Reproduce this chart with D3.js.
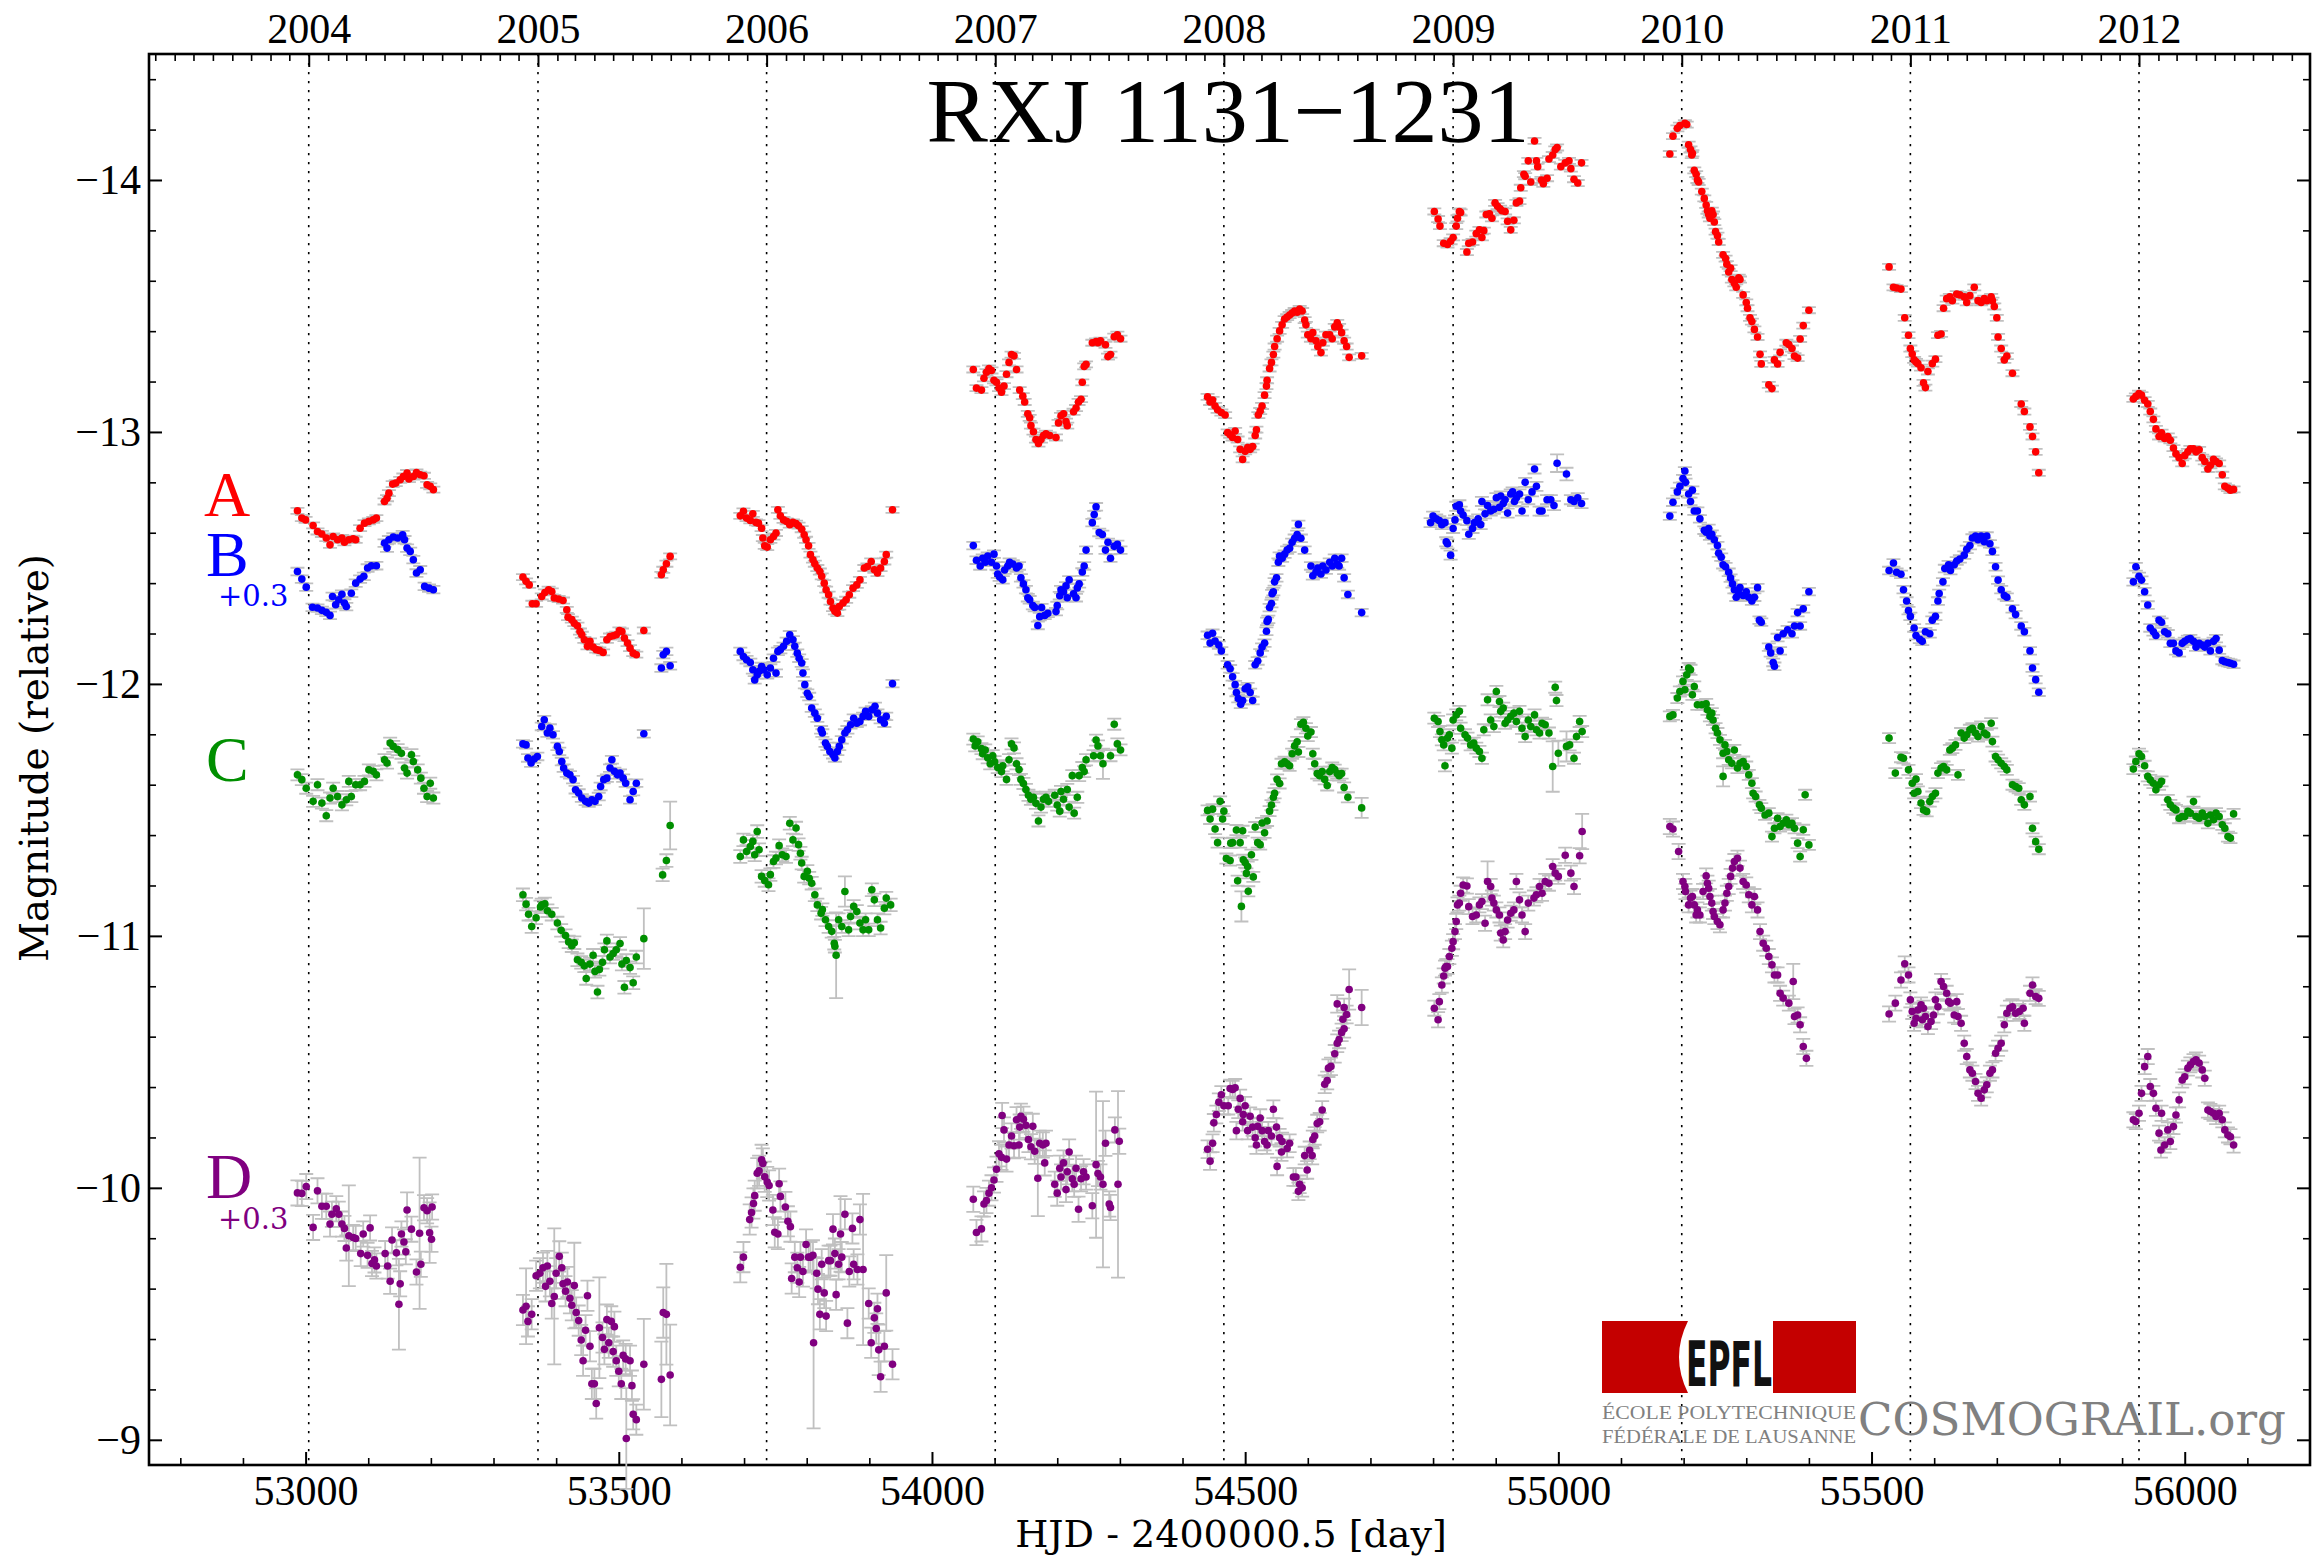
<!DOCTYPE html>
<html lang="en">
<head>
<meta charset="UTF-8">
<title>RXJ 1131-1231 light curves</title>
<script src="https://d3js.org/d3.v7.min.js"></script>
<style>
  body { margin: 0; background: #fff; }
</style>
</head>
<body>
<div id="chart"></div>
<script>
// light curves as plotted (B and D already shifted by +0.3 mag)
// each point: [HJD - 2400000.5, magnitude, optional error]
const curveA = [
  // 2004
  [52987,-12.687],[52994,-12.658],[53000,-12.651],[53012,-12.629],[53019,-12.605],[53026,-12.595],[53033,-12.579],[53039,-12.552],[53044,-12.585],[53051,-12.572],[53058,-12.579],[53062,-12.562],[53069,-12.572],[53076,-12.576],[53080,-12.572],[53087,-12.618],[53094,-12.638],[53101,-12.645],[53108,-12.651],[53113,-12.658],[53126,-12.724],[53130,-12.737],[53133,-12.757],[53139,-12.793],[53144,-12.797],[53151,-12.810],[53156,-12.823],[53162,-12.837],[53165,-12.813],[53172,-12.823],[53177,-12.839],[53183,-12.830],[53189,-12.826],[53194,-12.790],[53199,-12.784],[53204,-12.771],
  // 2005
  [53347,-12.424],[53352,-12.407],[53357,-12.393],[53362,-12.318],[53368,-12.318],[53377,-12.347],[53382,-12.363],[53388,-12.374],[53393,-12.367],[53397,-12.341],[53404,-12.337],[53411,-12.331],[53417,-12.294],[53419,-12.265],[53425,-12.255],[53429,-12.241],[53434,-12.231],[53438,-12.208],[53441,-12.195],[53445,-12.175],[53450,-12.149],[53454,-12.169],[53459,-12.146],[53464,-12.136],[53469,-12.133],[53475,-12.125],[53481,-12.175],[53486,-12.188],[53491,-12.191],[53496,-12.195],[53501,-12.212],[53505,-12.208],[53509,-12.182],[53514,-12.162],[53518,-12.142],[53523,-12.122],[53528,-12.116],[53540,-12.212],[53568,-12.433],[53571,-12.453],[53576,-12.477],[53582,-12.506],
  // 2006
  [53694,-12.667],[53699,-12.685],[53704,-12.658],[53710,-12.649],[53714,-12.675],[53719,-12.641],[53723,-12.638],[53728,-12.618],[53730,-12.579],[53733,-12.548],[53737,-12.543],[53742,-12.572],[53747,-12.585],[53751,-12.599],[53754,-12.691],[53758,-12.667],[53763,-12.651],[53768,-12.645],[53773,-12.632],[53778,-12.641],[53783,-12.636],[53787,-12.628],[53792,-12.614],[53796,-12.592],[53799,-12.572],[53803,-12.548],[53806,-12.513],[53810,-12.493],[53813,-12.477],[53817,-12.460],[53821,-12.446],[53824,-12.427],[53828,-12.400],[53831,-12.374],[53835,-12.354],[53838,-12.327],[53842,-12.301],[53845,-12.288],[53849,-12.281],[53852,-12.307],[53858,-12.321],[53863,-12.334],[53868,-12.354],[53874,-12.380],[53880,-12.393],[53885,-12.413],[53892,-12.460],[53897,-12.466],[53903,-12.486],[53908,-12.453],[53913,-12.440],[53918,-12.460],[53924,-12.486],[53927,-12.513],[53937,-12.691],
  // 2007
  [54066,-13.248],[54071,-13.174],[54079,-13.166],[54083,-13.213],[54087,-13.237],[54091,-13.252],[54095,-13.244],[54099,-13.205],[54103,-13.197],[54107,-13.174],[54111,-13.158],[54115,-13.182],[54119,-13.229],[54123,-13.276],[54127,-13.307],[54131,-13.302],[54135,-13.248],[54140,-13.166],[54145,-13.142],[54148,-13.119],[54153,-13.072],[54156,-13.056],[54158,-13.025],[54162,-13.001],[54166,-12.970],[54170,-12.954],[54174,-12.970],[54178,-12.986],[54182,-12.993],[54188,-12.986],[54198,-12.978],[54202,-13.036],[54206,-13.064],[54210,-13.072],[54214,-13.041],[54216,-13.025],[54226,-13.080],[54230,-13.095],[54234,-13.119],[54238,-13.130],[54240,-13.197],[54243,-13.260],[54246,-13.268],[54256,-13.354],[54262,-13.359],[54265,-13.354],[54269,-13.362],[54277,-13.346],[54281,-13.299],[54285,-13.307],[54291,-13.378],[54296,-13.386],[54301,-13.370],
  // 2008
  [54440,-13.139],[54444,-13.119],[54448,-13.127],[54452,-13.103],[54456,-13.088],[54462,-13.077],[54468,-13.067],[54472,-12.998],[54476,-12.989],[54480,-12.978],[54484,-13.004],[54488,-12.970],[54492,-12.931],[54496,-12.891],[54500,-12.923],[54504,-12.938],[54508,-12.931],[54512,-12.942],[54516,-12.986],[54518,-13.009],[54521,-13.067],[54524,-13.083],[54527,-13.103],[54531,-13.146],[54534,-13.182],[54535,-13.205],[54539,-13.252],[54542,-13.276],[54545,-13.307],[54547,-13.339],[54551,-13.370],[54555,-13.401],[54559,-13.425],[54563,-13.448],[54567,-13.456],[54571,-13.464],[54575,-13.472],[54579,-13.480],[54583,-13.475],[54587,-13.488],[54591,-13.480],[54595,-13.444],[54597,-13.425],[54600,-13.386],[54605,-13.370],[54608,-13.394],[54613,-13.362],[54616,-13.339],[54621,-13.315],[54624,-13.354],[54629,-13.386],[54635,-13.386],[54639,-13.370],[54643,-13.417],[54647,-13.433],[54650,-13.417],[54654,-13.394],[54658,-13.362],[54662,-13.339],[54666,-13.296],[54686,-13.302],
  // 2009
  [54802,-13.875],[54808,-13.845],[54811,-13.817],[54817,-13.749],[54823,-13.744],[54828,-13.757],[54832,-13.772],[54837,-13.817],[54839,-13.848],[54842,-13.875],[54844,-13.871],[54854,-13.714],[54857,-13.749],[54863,-13.754],[54869,-13.787],[54874,-13.802],[54878,-13.772],[54881,-13.799],[54885,-13.863],[54890,-13.866],[54894,-13.848],[54899,-13.909],[54903,-13.896],[54907,-13.886],[54910,-13.878],[54915,-13.875],[54919,-13.836],[54924,-13.802],[54929,-13.840],[54933,-13.909],[54938,-13.916],[54940,-13.969],[54945,-14.023],[54947,-14.015],[54952,-14.076],[54956,-13.992],[54962,-14.155],[54965,-14.076],[54967,-14.053],[54973,-14.000],[54976,-13.985],[54982,-14.007],[54985,-14.083],[54991,-14.099],[54995,-14.121],[54998,-14.129],[55004,-14.053],[55011,-14.068],[55017,-14.076],[55020,-14.045],[55025,-14.003],[55031,-13.988],[55037,-14.068],
  // 2010
  [55178,-14.103],[55183,-14.174],[55190,-14.205],[55194,-14.216],[55202,-14.225],[55205,-14.220],[55208,-14.140],[55211,-14.121],[55213,-14.099],[55214,-14.106],[55217,-14.038],[55220,-14.023],[55222,-14.000],[55224,-13.992],[55229,-13.954],[55233,-13.927],[55236,-13.901],[55238,-13.878],[55240,-13.863],[55242,-13.848],[55245,-13.878],[55247,-13.863],[55249,-13.833],[55251,-13.795],[55254,-13.779],[55256,-13.754],[55263,-13.703],[55267,-13.688],[55269,-13.666],[55272,-13.635],[55275,-13.650],[55277,-13.605],[55281,-13.590],[55284,-13.574],[55288,-13.612],[55290,-13.605],[55295,-13.544],[55300,-13.514],[55302,-13.491],[55306,-13.453],[55309,-13.438],[55313,-13.407],[55318,-13.377],[55322,-13.308],[55324,-13.270],[55336,-13.187],[55341,-13.172],[55345,-13.286],[55350,-13.270],[55354,-13.316],[55364,-13.354],[55368,-13.347],[55373,-13.331],[55377,-13.301],[55382,-13.293],[55386,-13.369],[55391,-13.422],[55400,-13.483],
  // 2011
  [55528,-13.655],[55535,-13.574],[55540,-13.571],[55547,-13.567],[55553,-13.453],[55559,-13.384],[55562,-13.331],[55565,-13.309],[55568,-13.286],[55571,-13.278],[55574,-13.271],[55579,-13.255],[55583,-13.195],[55586,-13.176],[55590,-13.240],[55597,-13.271],[55602,-13.289],[55606,-13.384],[55611,-13.389],[55615,-13.491],[55620,-13.529],[55625,-13.536],[55629,-13.521],[55636,-13.547],[55641,-13.544],[55648,-13.536],[55652,-13.514],[55657,-13.541],[55664,-13.574],[55670,-13.521],[55675,-13.514],[55680,-13.529],[55684,-13.521],[55691,-13.536],[55693,-13.521],[55696,-13.498],[55700,-13.453],[55702,-13.377],[55707,-13.331],[55712,-13.286],[55716,-13.301],[55725,-13.233],[55739,-13.111],[55744,-13.081],[55753,-13.020],[55757,-12.982],[55762,-12.921],[55767,-12.838],
  // 2012
  [55918,-13.131],[55922,-13.141],[55927,-13.152],[55931,-13.146],[55936,-13.126],[55941,-13.111],[55945,-13.081],[55950,-13.050],[55954,-13.012],[55959,-12.982],[55963,-12.997],[55968,-12.974],[55973,-12.982],[55977,-12.967],[55982,-12.936],[55986,-12.913],[55991,-12.898],[55996,-12.875],[56000,-12.906],[56005,-12.921],[56009,-12.933],[56014,-12.933],[56018,-12.921],[56023,-12.929],[56028,-12.898],[56032,-12.883],[56037,-12.853],[56041,-12.868],[56046,-12.891],[56050,-12.883],[56055,-12.875],[56060,-12.830],[56064,-12.784],[56069,-12.777],[56073,-12.769],[56078,-12.772]
];

const curveB = [
  // 2004
  [52987,-12.446],[52994,-12.416],[53001,-12.384],[53011,-12.304],[53019,-12.301],[53026,-12.292],[53033,-12.284],[53039,-12.272],[53043,-12.347],[53048,-12.314],[53053,-12.334],[53058,-12.356],[53062,-12.321],[53065,-12.307],[53073,-12.360],[53080,-12.400],[53087,-12.416],[53093,-12.427],[53099,-12.460],[53105,-12.469],[53113,-12.469],[53126,-12.559],[53130,-12.539],[53133,-12.572],[53140,-12.583],[53147,-12.579],[53155,-12.592],[53158,-12.572],[53162,-12.539],[53167,-12.526],[53172,-12.493],[53177,-12.440],[53183,-12.453],[53190,-12.387],[53197,-12.380],[53204,-12.374],
  // 2005
  [53347,-11.762],[53352,-11.758],[53355,-11.706],[53360,-11.686],[53365,-11.702],[53370,-11.712],[53377,-11.831],[53381,-11.858],[53386,-11.805],[53390,-11.825],[53395,-11.798],[53402,-11.752],[53405,-11.732],[53409,-11.692],[53412,-11.666],[53417,-11.646],[53422,-11.639],[53427,-11.620],[53431,-11.580],[53436,-11.567],[53441,-11.547],[53447,-11.534],[53452,-11.527],[53457,-11.540],[53462,-11.534],[53468,-11.553],[53471,-11.593],[53476,-11.620],[53481,-11.626],[53486,-11.666],[53489,-11.699],[53493,-11.653],[53498,-11.639],[53502,-11.646],[53507,-11.626],[53511,-11.606],[53518,-11.540],[53523,-11.573],[53528,-11.606],[53540,-11.802],[53568,-12.063],[53571,-12.116],[53576,-12.129],[53582,-12.072],
  // 2006
  [53694,-12.129],[53699,-12.109],[53704,-12.096],[53710,-12.085],[53714,-12.056],[53717,-12.016],[53721,-12.036],[53724,-12.050],[53728,-12.069],[53731,-12.056],[53737,-12.036],[53742,-12.063],[53747,-12.102],[53751,-12.043],[53754,-12.129],[53758,-12.136],[53763,-12.149],[53768,-12.169],[53773,-12.195],[53778,-12.175],[53781,-12.149],[53785,-12.122],[53788,-12.102],[53792,-12.083],[53794,-12.043],[53797,-11.997],[53801,-11.963],[53804,-11.950],[53808,-11.904],[53813,-11.884],[53817,-11.864],[53823,-11.818],[53825,-11.805],[53830,-11.765],[53833,-11.752],[53837,-11.732],[53842,-11.719],[53845,-11.706],[53849,-11.732],[53852,-11.752],[53856,-11.778],[53861,-11.805],[53865,-11.818],[53870,-11.838],[53875,-11.864],[53880,-11.844],[53885,-11.851],[53890,-11.871],[53894,-11.891],[53899,-11.871],[53904,-11.897],[53909,-11.911],[53913,-11.884],[53918,-11.858],[53924,-11.844],[53927,-11.871],[53937,-12.001],
  // 2007
  [54066,-12.549],[54071,-12.491],[54077,-12.468],[54081,-12.499],[54085,-12.483],[54089,-12.507],[54095,-12.483],[54099,-12.515],[54103,-12.468],[54105,-12.436],[54108,-12.424],[54113,-12.413],[54116,-12.452],[54121,-12.468],[54124,-12.483],[54129,-12.476],[54135,-12.460],[54139,-12.468],[54142,-12.421],[54146,-12.397],[54150,-12.374],[54153,-12.342],[54156,-12.334],[54161,-12.311],[54164,-12.303],[54169,-12.232],[54172,-12.267],[54175,-12.303],[54180,-12.272],[54185,-12.280],[54198,-12.287],[54200,-12.311],[54204,-12.350],[54206,-12.374],[54210,-12.366],[54214,-12.389],[54216,-12.342],[54219,-12.413],[54226,-12.358],[54230,-12.342],[54232,-12.381],[54235,-12.397],[54240,-12.444],[54243,-12.468],[54246,-12.531],[54256,-12.640],[54259,-12.672],[54262,-12.703],[54267,-12.601],[54272,-12.593],[54277,-12.531],[54281,-12.562],[54285,-12.499],[54291,-12.546],[54296,-12.554],[54301,-12.531],
  // 2008
  [54440,-12.193],[54444,-12.162],[54448,-12.201],[54452,-12.170],[54458,-12.154],[54462,-12.131],[54472,-12.076],[54476,-12.060],[54480,-12.028],[54484,-11.997],[54486,-11.966],[54489,-11.942],[54493,-11.919],[54496,-11.934],[54500,-11.981],[54504,-11.989],[54508,-11.966],[54512,-11.934],[54516,-12.076],[54520,-12.091],[54524,-12.123],[54527,-12.146],[54531,-12.162],[54534,-12.209],[54535,-12.248],[54537,-12.256],[54539,-12.303],[54542,-12.319],[54543,-12.358],[54545,-12.366],[54547,-12.405],[54550,-12.421],[54553,-12.483],[54555,-12.507],[54559,-12.499],[54563,-12.515],[54567,-12.531],[54571,-12.538],[54575,-12.562],[54579,-12.578],[54583,-12.593],[54585,-12.633],[54589,-12.578],[54595,-12.531],[54605,-12.468],[54608,-12.429],[54613,-12.444],[54616,-12.460],[54621,-12.436],[54624,-12.468],[54629,-12.452],[54635,-12.483],[54639,-12.468],[54643,-12.499],[54647,-12.476],[54650,-12.468],[54654,-12.499],[54658,-12.421],[54664,-12.355],[54686,-12.283],
  // 2009
  [54796,-12.640],[54800,-12.666],[54805,-12.655],[54810,-12.648],[54814,-12.632],[54819,-12.640],[54821,-12.564],[54823,-12.556],[54828,-12.511],[54832,-12.617],[54835,-12.651],[54837,-12.705],[54842,-12.711],[54844,-12.686],[54848,-12.670],[54854,-12.648],[54857,-12.594],[54863,-12.617],[54866,-12.640],[54872,-12.655],[54876,-12.632],[54878,-12.724],[54883,-12.675],[54887,-12.708],[54892,-12.686],[54897,-12.693],[54901,-12.739],[54906,-12.701],[54908,-12.746],[54912,-12.716],[54915,-12.731],[54919,-12.678],[54924,-12.754],[54927,-12.762],[54930,-12.724],[54933,-12.739],[54938,-12.754],[54942,-12.686],[54947,-12.800],[54952,-12.731],[54958,-12.762],[54962,-12.853],[54965,-12.784],[54970,-12.686],[54974,-12.686],[54982,-12.731],[54988,-12.731],[54993,-12.708],[54998,-12.876,0.035],[55013,-12.833,0.025],[55020,-12.731],[55025,-12.724],[55031,-12.739],[55037,-12.716],
  // 2010
  [55178,-12.666],[55183,-12.721],[55190,-12.762],[55194,-12.784],[55199,-12.815],[55202,-12.845],[55203,-12.800],[55208,-12.754],[55211,-12.724],[55214,-12.769],[55217,-12.686],[55222,-12.686],[55226,-12.655],[55233,-12.610],[55236,-12.602],[55240,-12.617],[55242,-12.587],[55245,-12.594],[55249,-12.572],[55254,-12.549],[55256,-12.519],[55260,-12.503],[55263,-12.473],[55267,-12.465],[55272,-12.443],[55275,-12.420],[55278,-12.397],[55281,-12.374],[55284,-12.344],[55288,-12.359],[55290,-12.382],[55295,-12.351],[55300,-12.366],[55304,-12.344],[55309,-12.329],[55313,-12.344],[55318,-12.382],[55321,-12.253],[55324,-12.245],[55336,-12.146],[55339,-12.123],[55343,-12.085],[55345,-12.070],[55350,-12.184],[55354,-12.131],[55359,-12.199],[55366,-12.215],[55373,-12.199],[55377,-12.230],[55382,-12.283],[55386,-12.230],[55391,-12.298],[55400,-12.366],
  // 2011
  [55528,-12.450],[55535,-12.480],[55540,-12.443],[55547,-12.435],[55551,-12.374],[55556,-12.329],[55559,-12.291],[55562,-12.268],[55568,-12.222],[55571,-12.192],[55577,-12.177],[55581,-12.169],[55586,-12.207],[55593,-12.199],[55597,-12.253],[55602,-12.268],[55606,-12.329],[55608,-12.359],[55614,-12.405],[55617,-12.458],[55623,-12.473],[55626,-12.450],[55632,-12.473],[55636,-12.488],[55641,-12.496],[55648,-12.511],[55652,-12.534],[55657,-12.549],[55661,-12.579],[55666,-12.587],[55670,-12.572],[55675,-12.587],[55680,-12.564],[55684,-12.587],[55689,-12.556],[55693,-12.526],[55698,-12.465],[55702,-12.412],[55707,-12.374],[55712,-12.351],[55716,-12.344],[55725,-12.298],[55730,-12.275],[55739,-12.230],[55744,-12.207],[55753,-12.131],[55757,-12.063],[55762,-12.017],[55767,-11.967],
  // 2012
  [55918,-12.405],[55922,-12.465],[55927,-12.427],[55931,-12.412],[55936,-12.366],[55941,-12.313],[55945,-12.222],[55950,-12.207],[55954,-12.192],[55959,-12.253],[55963,-12.245],[55968,-12.207],[55973,-12.199],[55977,-12.161],[55982,-12.161],[55986,-12.131],[55991,-12.123],[55996,-12.161],[56000,-12.169],[56005,-12.177],[56009,-12.180],[56014,-12.169],[56018,-12.146],[56023,-12.161],[56028,-12.154],[56032,-12.146],[56037,-12.161],[56041,-12.131],[56046,-12.169],[56050,-12.180],[56055,-12.134],[56060,-12.093],[56064,-12.088],[56069,-12.085],[56073,-12.082],[56078,-12.078]
];

const curveC = [
  // 2004
  [52987,-11.639],[52994,-11.620],[53001,-11.586],[53012,-11.534],[53019,-11.600],[53026,-11.527],[53033,-11.477],[53039,-11.547],[53044,-11.586],[53051,-11.553],[53058,-11.520],[53065,-11.540],[53069,-11.613],[53073,-11.553],[53080,-11.600],[53087,-11.600],[53094,-11.613],[53101,-11.659],[53108,-11.653],[53113,-11.639],[53126,-11.699],[53130,-11.686],[53135,-11.765],[53140,-11.752],[53147,-11.739],[53153,-11.725],[53158,-11.666],[53162,-11.646],[53169,-11.719],[53172,-11.692],[53179,-11.659],[53184,-11.626],[53189,-11.586],[53194,-11.553],[53199,-11.606],[53204,-11.547],
  // 2005
  [53347,-11.163],[53352,-11.126],[53356,-11.086],[53361,-11.037],[53368,-11.072],[53375,-11.115],[53377,-11.123],[53382,-11.127],[53386,-11.100],[53393,-11.086],[53402,-11.051],[53408,-11.022],[53415,-11.001],[53420,-10.976],[53425,-10.961],[53429,-10.973],[53434,-10.905],[53440,-10.895],[53445,-10.881],[53448,-10.831],[53454,-10.888],[53459,-10.923],[53462,-10.859],[53466,-10.777],[53469,-10.867],[53474,-10.895],[53477,-10.945],[53481,-10.980],[53486,-10.916],[53491,-10.930],[53496,-10.945],[53502,-10.970],[53505,-10.888],[53509,-10.796],[53512,-10.902],[53518,-10.874],[53523,-10.814],[53528,-10.916],[53540,-10.989,0.12],[53570,-11.242],[53576,-11.299],[53582,-11.438,0.095],
  // 2006
  [53694,-11.315],[53699,-11.381],[53704,-11.335],[53710,-11.355],[53714,-11.375],[53717,-11.322],[53721,-11.414],[53724,-11.342],[53728,-11.236],[53733,-11.220],[53739,-11.203],[53742,-11.243],[53747,-11.295],[53751,-11.309],[53756,-11.358],[53761,-11.322],[53767,-11.315],[53773,-11.447],[53778,-11.381],[53783,-11.428],[53787,-11.362],[53790,-11.328],[53792,-11.289],[53796,-11.236],[53801,-11.256],[53804,-11.229],[53808,-11.209],[53813,-11.163],[53817,-11.123],[53823,-11.090],[53825,-11.104],[53830,-11.064],[53835,-11.037],[53840,-11.018],[53844,-10.971],[53847,-10.923,0.17],[53845,-10.959],[53851,-11.064],[53856,-11.037],[53861,-11.176,0.06],[53867,-11.024],[53870,-11.077],[53875,-11.117],[53880,-11.097],[53885,-11.051],[53890,-11.024],[53894,-11.064],[53899,-11.024],[53904,-11.183],[53908,-11.143],[53913,-11.064],[53918,-11.031],[53924,-11.110],[53927,-11.150],[53934,-11.123],
  // 2007
  [54066,-11.781],[54069,-11.754],[54073,-11.770],[54079,-11.743],[54081,-11.723],[54085,-11.738],[54089,-11.707],[54093,-11.683],[54097,-11.715],[54100,-11.691],[54105,-11.668],[54111,-11.652],[54113,-11.675],[54119,-11.621],[54123,-11.699],[54127,-11.762],[54131,-11.746],[54135,-11.683],[54139,-11.660],[54142,-11.621],[54146,-11.605],[54150,-11.581],[54154,-11.558],[54158,-11.542],[54162,-11.550],[54166,-11.526],[54170,-11.456],[54174,-11.511],[54178,-11.542],[54182,-11.550],[54186,-11.534],[54196,-11.558],[54200,-11.519],[54204,-11.495],[54206,-11.573],[54210,-11.542],[54216,-11.581],[54219,-11.511],[54224,-11.636],[54227,-11.487],[54232,-11.550],[54235,-11.636],[54240,-11.668],[54243,-11.652],[54246,-11.699],[54258,-11.715],[54262,-11.777],[54265,-11.754],[54269,-11.715],[54273,-11.683,0.06],[54285,-11.715],[54291,-11.840],[54296,-11.762],[54301,-11.738],
  // 2008
  [54440,-11.498],[54444,-11.464],[54448,-11.503],[54452,-11.424],[54456,-11.370],[54460,-11.534],[54464,-11.464],[54466,-11.495],[54470,-11.307],[54476,-11.299],[54477,-11.368],[54480,-11.370],[54486,-11.420],[54488,-11.219],[54492,-11.370],[54494,-11.117,0.06],[54496,-11.417],[54497,-11.302],[54500,-11.291],[54502,-11.248],[54504,-11.275],[54505,-11.177],[54510,-11.322],[54513,-11.234],[54516,-11.432],[54520,-11.370],[54524,-11.362],[54527,-11.448],[54531,-11.409],[54535,-11.456],[54539,-11.495],[54542,-11.519],[54545,-11.550],[54547,-11.566],[54551,-11.621],[54555,-11.605],[54558,-11.683],[54563,-11.691],[54567,-11.683],[54571,-11.675],[54575,-11.723],[54579,-11.754],[54583,-11.770],[54585,-11.730],[54589,-11.840],[54593,-11.848],[54597,-11.824],[54600,-11.793],[54605,-11.809],[54608,-11.723],[54611,-11.683],[54615,-11.644],[54619,-11.636],[54623,-11.652],[54627,-11.621],[54631,-11.597],[54635,-11.652],[54639,-11.668],[54643,-11.660],[54647,-11.644],[54650,-11.636],[54654,-11.644],[54658,-11.589],[54664,-11.550],[54686,-11.508,0.04],
  // 2009
  [54802,-11.864],[54808,-11.851],[54811,-11.811],[54814,-11.778],[54817,-11.758],[54819,-11.675],[54823,-11.785],[54826,-11.798],[54830,-11.745],[54832,-11.857],[54837,-11.877],[54842,-11.891],[54844,-11.824],[54851,-11.798],[54855,-11.785],[54860,-11.758],[54865,-11.765],[54869,-11.745],[54874,-11.732],[54878,-11.705],[54881,-11.818],[54887,-11.937],[54892,-11.857],[54897,-11.831],[54901,-11.970],[54906,-11.930],[54908,-11.891],[54912,-11.904],[54915,-11.844],[54919,-11.857],[54924,-11.871],[54929,-11.884],[54933,-11.851],[54938,-11.891],[54942,-11.824],[54947,-11.791],[54952,-11.857],[54956,-11.831],[54962,-11.877],[54965,-11.818],[54970,-11.805],[54974,-11.844],[54979,-11.838],[54985,-11.805],[54991,-11.672,0.1],[54995,-11.987],[54997,-11.934],[55000,-11.725,0.05],[55013,-11.752,0.06],[55018,-11.758],[55025,-11.705],[55029,-11.791],[55034,-11.851],[55038,-11.811],
  // 2010
  [55178,-11.871],[55183,-11.877],[55190,-11.944],[55194,-11.970],[55199,-12.010],[55202,-11.977],[55205,-12.036],[55208,-12.063],[55211,-12.056],[55214,-11.957],[55217,-11.990],[55222,-11.917],[55229,-11.917],[55236,-11.921],[55238,-11.897],[55242,-11.871],[55245,-11.884],[55247,-11.857],[55251,-11.824],[55254,-11.805],[55258,-11.778],[55263,-11.725],[55263,-11.633,0.04],[55266,-11.758],[55269,-11.732],[55272,-11.699],[55277,-11.685],[55281,-11.738],[55286,-11.666],[55290,-11.685],[55295,-11.692],[55300,-11.672],[55304,-11.639],[55309,-11.606],[55311,-11.566],[55315,-11.553],[55321,-11.520],[55324,-11.507],[55330,-11.480],[55336,-11.487],[55341,-11.394],[55345,-11.427],[55350,-11.467],[55354,-11.434],[55359,-11.447],[55364,-11.461],[55368,-11.441],[55373,-11.447],[55377,-11.427],[55382,-11.368],[55386,-11.315],[55391,-11.421],[55394,-11.560],[55400,-11.361],
  // 2011
  [55528,-11.785],[55538,-11.646],[55547,-11.709],[55551,-11.705],[55559,-11.659],[55565,-11.606],[55568,-11.566],[55571,-11.622],[55574,-11.573],[55579,-11.527],[55583,-11.500],[55588,-11.494],[55593,-11.533],[55597,-11.553],[55602,-11.566],[55606,-11.646],[55611,-11.666],[55615,-11.672],[55620,-11.659],[55625,-11.738],[55629,-11.745],[55634,-11.758],[55638,-11.639],[55643,-11.805],[55648,-11.785],[55652,-11.798],[55657,-11.818],[55661,-11.824],[55666,-11.805],[55670,-11.791],[55675,-11.831],[55680,-11.805],[55684,-11.798],[55691,-11.844],[55693,-11.771],[55698,-11.712],[55702,-11.699],[55707,-11.685],[55712,-11.672],[55716,-11.659],[55725,-11.600],[55730,-11.593],[55735,-11.586],[55739,-11.540],[55744,-11.520],[55753,-11.553],[55757,-11.427],[55762,-11.374],[55767,-11.344],
  // 2012
  [55918,-11.662],[55922,-11.692],[55927,-11.723],[55931,-11.712],[55936,-11.675],[55941,-11.633],[55945,-11.619],[55950,-11.606],[55954,-11.580],[55959,-11.600],[55963,-11.613],[55973,-11.540],[55977,-11.520],[55982,-11.507],[55986,-11.500],[55991,-11.467],[55996,-11.474],[56000,-11.474],[56005,-11.494],[56009,-11.487],[56014,-11.533],[56018,-11.474],[56023,-11.467],[56028,-11.487],[56032,-11.474],[56037,-11.447],[56041,-11.480],[56046,-11.461],[56050,-11.487],[56055,-11.474],[56060,-11.441],[56064,-11.427],[56069,-11.394],[56073,-11.388],[56078,-11.484]
];

const curveD = [
  // 2004
  [52987,-9.980],[52994,-9.978],[53001,-10.005],[53012,-9.843],[53019,-9.988],[53026,-9.927],[53033,-9.927],[53039,-9.856],[53042,-9.895],[53049,-9.917],[53053,-9.895],[53058,-9.856],[53062,-9.839],[53065,-9.761],[53069,-9.810,0.2],[53076,-9.803],[53080,-9.799],[53088,-9.739],[53092,-9.817],[53099,-9.732],[53103,-9.841],[53106,-9.700],[53110,-9.714],[53113,-9.690],[53127,-9.739],[53131,-9.690],[53135,-9.629],[53138,-9.793],[53145,-9.742],[53149,-9.538,0.18],[53151,-9.619],[53153,-9.817],[53157,-9.785],[53160,-9.746],[53162,-9.912,0.07],[53169,-9.836],[53177,-9.666],[53182,-9.820,0.3],[53184,-9.697],[53189,-9.921],[53194,-9.909],[53198,-9.822,0.12],[53202,-9.924],[53201,-9.796],
  // 2005
  [53347,-9.515],[53352,-9.530,0.15],[53355,-9.470],[53361,-9.498],[53368,-9.651],[53374,-9.661],[53379,-9.683],[53383,-9.609],[53386,-9.690],[53390,-9.629],[53393,-9.541],[53397,-9.569,0.27],[53400,-9.661],[53405,-9.728],[53409,-9.683],[53411,-9.619],[53415,-9.590],[53418,-9.626],[53422,-9.562],[53425,-9.534],[53429,-9.612,0.17],[53432,-9.505],[53436,-9.473],[53440,-9.396],[53443,-9.314],[53447,-9.435],[53450,-9.572],[53454,-9.371],[53457,-9.222],[53461,-9.222],[53464,-9.144],[53469,-9.445,0.2],[53474,-9.406],[53477,-9.359],[53481,-9.477],[53484,-9.385],[53488,-9.470],[53491,-9.350],[53493,-9.449],[53496,-9.314],[53500,-9.272],[53504,-9.222],[53507,-9.335],[53511,-9.321],[53512,-9.005,0.2],[53518,-9.314],[53521,-9.215],[53523,-9.101],[53528,-9.080],[53540,-9.300,0.18],[53568,-9.240,0.15],[53571,-9.505,0.1],[53576,-9.498,0.2],[53582,-9.257,0.2],
  // 2006
  [53694,-9.685],[53699,-9.725],[53709,-9.874],[53712,-9.902],[53715,-9.938],[53717,-9.969],[53721,-10.058],[53724,-10.068],[53728,-10.111],[53730,-10.097],[53733,-10.044],[53737,-10.023],[53740,-10.009],[53746,-9.912],[53749,-9.824],[53754,-9.817],[53756,-10.016],[53758,-9.966],[53766,-9.924],[53770,-9.867],[53774,-9.846],[53776,-9.640],[53781,-9.725],[53785,-9.683],[53788,-9.626],[53790,-9.725],[53794,-9.668],[53799,-9.775],[53803,-9.725],[53806,-9.725],[53810,-9.732],[53811,-9.385,0.34],[53816,-9.661],[53818,-9.598],[53821,-9.498],[53824,-9.697],[53828,-9.583],[53831,-9.491],[53835,-9.711],[53838,-9.711],[53842,-9.836],[53845,-9.739],[53847,-9.576],[53851,-9.697],[53854,-9.817,0.15],[53856,-9.725],[53861,-9.895],[53865,-9.463],[53868,-9.668],[53873,-9.839],[53875,-9.697],[53881,-9.676],[53885,-9.874],[53890,-9.676,0.3],[53899,-9.541],[53903,-9.385],[53908,-9.484],[53911,-9.442],[53913,-9.520],[53915,-9.357,0.1],[53918,-9.250],[53924,-9.371],[53927,-9.583,0.15],[53937,-9.300],
  // 2007
  [54066,-9.955],[54071,-9.823],[54079,-9.837],[54083,-9.936],[54087,-9.950],[54091,-9.979],[54095,-10.000],[54099,-10.031],[54103,-10.074],[54107,-10.135],[54111,-10.121],[54112,-10.287],[54115,-10.230],[54119,-10.114],[54123,-10.170],[54127,-10.206],[54131,-10.167],[54135,-10.270],[54139,-10.170],[54140,-10.241],[54142,-10.284],[54146,-10.272],[54150,-10.248],[54154,-10.192],[54158,-10.163],[54161,-10.244],[54164,-10.145],[54169,-10.038,0.15],[54172,-10.177],[54177,-10.170],[54180,-10.099],[54182,-10.177],[54196,-10.014],[54200,-9.979],[54204,-10.078],[54206,-10.043],[54210,-10.099],[54214,-9.993],[54216,-10.064],[54219,-10.142],[54224,-10.036],[54227,-10.014],[54230,-10.078],[54234,-9.915],[54238,-10.036],[54242,-10.064],[54246,-10.043],[54256,-9.929],[54262,-10.092,0.29],[54265,-10.057],[54269,-10.043],[54273,-10.014,0.33],[54277,-10.177],[54283,-9.936],[54285,-9.922],[54292,-10.230],[54299,-10.185],[54297,-10.014,0.37],
  // 2008
  [54440,-10.153],[54444,-10.106],[54448,-10.177],[54450,-10.258],[54454,-10.291],[54458,-10.340],[54462,-10.369],[54466,-10.326],[54473,-10.326],[54476,-10.394],[54480,-10.390],[54484,-10.397],[54486,-10.227],[54489,-10.312],[54492,-10.355],[54496,-10.262],[54497,-10.291],[54500,-10.326],[54504,-10.227],[54508,-10.284],[54512,-10.241],[54516,-10.199],[54518,-10.170],[54520,-10.244],[54524,-10.277],[54527,-10.227],[54531,-10.184],[54535,-10.170],[54537,-10.227],[54542,-10.206],[54545,-10.312],[54550,-10.241],[54551,-10.085],[54555,-10.199],[54558,-10.142],[54559,-10.184],[54567,-10.156],[54571,-10.177],[54577,-10.043],[54581,-10.043],[54585,-9.986],[54587,-10.014],[54591,-10.000],[54595,-10.128],[54599,-10.071],[54603,-10.149],[54607,-10.128],[54608,-10.192],[54611,-10.206],[54615,-10.255],[54619,-10.262],[54623,-10.309],[54627,-10.411],[54631,-10.426],[54633,-10.475],[54637,-10.482],[54643,-10.532],[54647,-10.574],[54650,-10.589],[54654,-10.617],[54658,-10.631],[54647,-10.730],[54658,-10.716],[54662,-10.688],[54656,-10.669],[54666,-10.787,0.08],[54686,-10.716,0.07],
  // 2009
  [54802,-10.713],[54808,-10.667],[54810,-10.739],[54814,-10.805],[54817,-10.841],[54819,-10.872],[54821,-10.878],[54823,-10.878],[54826,-10.918],[54830,-10.951],[54832,-10.977],[54835,-11.017],[54837,-11.057],[54839,-11.123],[54842,-11.130],[54844,-11.169],[54848,-11.202],[54854,-11.198],[54857,-11.116],[54863,-11.077],[54869,-11.083],[54874,-11.123],[54878,-11.136],[54883,-11.050],[54887,-11.216,0.08],[54892,-11.196],[54894,-11.150],[54897,-11.130],[54901,-11.103],[54906,-11.083],[54908,-11.011],[54912,-10.984],[54915,-11.017],[54919,-11.063],[54924,-11.090],[54929,-11.103],[54933,-11.216],[54938,-11.143],[54942,-11.083],[54947,-11.017],[54952,-11.130],[54961,-11.150],[54965,-11.163],[54970,-11.196],[54974,-11.169],[54979,-11.216],[54985,-11.209],[54991,-11.275],[54995,-11.249],[55000,-11.236],[55011,-11.320],[55020,-11.249],[55025,-11.196],[55034,-11.318],[55038,-11.414,0.07],
  // 2010
  [55178,-11.434],[55183,-11.424],[55192,-11.335],[55199,-11.216],[55202,-11.196],[55203,-11.176],[55208,-11.123],[55211,-11.150],[55214,-11.156],[55217,-11.123],[55220,-11.083],[55222,-11.103],[55226,-11.083],[55231,-11.176],[55236,-11.238],[55238,-11.209],[55240,-11.189],[55242,-11.156],[55245,-11.130],[55247,-11.097],[55249,-11.077],[55254,-11.057],[55258,-11.044],[55263,-11.103],[55266,-11.130],[55269,-11.169],[55272,-11.196],[55275,-11.236],[55278,-11.269],[55281,-11.295],[55286,-11.308],[55290,-11.269],[55295,-11.216],[55300,-11.202],[55304,-11.163],[55309,-11.123],[55313,-11.156],[55318,-11.103],[55322,-11.017],[55327,-10.971],[55332,-10.951],[55336,-10.918],[55341,-10.885],[55345,-10.845],[55350,-10.845],[55354,-10.772],[55359,-10.753],[55368,-10.733],[55375,-10.819,0.07],[55377,-10.680],[55382,-10.686],[55386,-10.647],[55391,-10.561],[55396,-10.514],
  // 2011
  [55528,-10.690],[55538,-10.733],[55547,-10.825],[55553,-10.889],[55559,-10.845],[55562,-10.746],[55565,-10.700],[55568,-10.653],[55571,-10.673],[55574,-10.706],[55579,-10.726],[55581,-10.667],[55583,-10.713],[55586,-10.680],[55590,-10.640],[55595,-10.660],[55599,-10.686],[55602,-10.746],[55606,-10.719],[55611,-10.819],[55615,-10.799],[55620,-10.772],[55623,-10.739],[55626,-10.733],[55632,-10.686],[55636,-10.739],[55638,-10.680],[55643,-10.653],[55648,-10.574],[55652,-10.521],[55657,-10.468],[55661,-10.455],[55666,-10.422],[55670,-10.375],[55675,-10.356],[55680,-10.389],[55684,-10.409],[55689,-10.455],[55693,-10.468],[55698,-10.534],[55702,-10.554],[55707,-10.574],[55712,-10.647],[55716,-10.693],[55721,-10.713],[55725,-10.719],[55730,-10.693],[55736,-10.700],[55742,-10.713],[55744,-10.653],[55753,-10.772],[55757,-10.805],[55762,-10.759],[55767,-10.752],
  // 2012
  [55918,-10.270],[55922,-10.263],[55927,-10.296],[55931,-10.375],[55936,-10.481],[55941,-10.521],[55945,-10.402],[55950,-10.375],[55954,-10.316],[55959,-10.217],[55962,-10.150],[55963,-10.296],[55968,-10.170],[55973,-10.230],[55977,-10.184],[55982,-10.243],[55986,-10.289],[55991,-10.349],[55996,-10.428],[56000,-10.441],[56005,-10.475],[56009,-10.488],[56014,-10.501],[56018,-10.508],[56023,-10.495],[56028,-10.468],[56032,-10.435],[56037,-10.309],[56041,-10.303],[56046,-10.296],[56050,-10.283],[56055,-10.296],[56060,-10.270],[56064,-10.230],[56069,-10.210],[56073,-10.203],[56078,-10.170]
];

// typical error bar (mag) per observing season, 2004 ... 2012
const errA = [0.012, 0.012, 0.012, 0.012, 0.012, 0.012, 0.012, 0.012, 0.012];
const errB = [0.015, 0.015, 0.015, 0.015, 0.015, 0.018, 0.015, 0.015, 0.015];
const errC = [0.022, 0.025, 0.025, 0.022, 0.02, 0.022, 0.02, 0.02, 0.02];
const errD = [0.05, 0.06, 0.06, 0.05, 0.035, 0.03, 0.03, 0.03, 0.03];

const years = [2004, 2005, 2006, 2007, 2008, 2009, 2010, 2011, 2012];
const yearStart = [53005, 53371, 53736, 54101, 54466, 54832, 55197, 55562, 55927];
const bottomTicks = [53000, 53500, 54000, 54500, 55000, 55500, 56000];
const leftTicks = [-14, -13, -12, -11, -10, -9];

const W = 2312, H = 1559;
const plot = {left: 149, right: 2310, top: 54, bottom: 1465};

const svg = d3.select("#chart").append("svg")
    .attr("width", W).attr("height", H)
    .style("display", "block")
    .style("background", "#fff");

const x = d3.scaleLinear().domain([52750, 56200]).range([plot.left, plot.right]);
const y = d3.scaleLinear().domain([-14.5, -8.9]).range([plot.top, plot.bottom]);

const tickFont = "'Liberation Serif', 'DejaVu Serif', serif";
const labelFont = "'DejaVu Serif', serif";

// year separators
svg.append("g").selectAll("line").data(yearStart).join("line")
    .attr("x1", d => x(d)).attr("x2", d => x(d))
    .attr("y1", plot.top).attr("y2", plot.bottom)
    .attr("stroke", "#000").attr("stroke-width", 1.6)
    .attr("stroke-dasharray", "2.2,6.8");

// minor tick positions
const minorX = d3.range(52800, 56200, 100).filter(v => v % 500 !== 0);
const minorY = d3.range(-14.4, -8.9, 0.2).map(v => +v.toFixed(1)).filter(v => !Number.isInteger(v));
const monthTicks = [];
for (let yr = 2003; yr <= 2012; yr++) {
  for (let mo = 0; mo < 12; mo++) {
    const mjd = Date.UTC(yr, mo, 1) / 86400000 + 40587;
    if (mjd > 52750 && mjd < 56200 && mo !== 0) monthTicks.push(mjd);
  }
}

function styleAxis(g, w) {
  g.select(".domain").remove();
  g.selectAll(".tick line").attr("stroke", "#000").attr("stroke-width", w);
  g.selectAll(".tick text").attr("fill", "#000").attr("font-family", tickFont).attr("font-size", 42);
}

// bottom axis
svg.append("g").attr("transform", `translate(0,${plot.bottom})`)
    .call(d3.axisBottom(x).tickValues(bottomTicks).tickSizeInner(-13).tickSizeOuter(0)
      .tickPadding(10).tickFormat(d3.format("d")))
    .call(g => styleAxis(g, 2));
svg.append("g").attr("transform", `translate(0,${plot.bottom})`)
    .call(d3.axisBottom(x).tickValues(minorX).tickSizeInner(-7).tickSizeOuter(0).tickFormat(""))
    .call(g => styleAxis(g, 1.6));

// top axis: calendar years
svg.append("g").attr("transform", `translate(0,${plot.top})`)
    .call(d3.axisTop(x).tickValues(yearStart).tickSizeInner(-13).tickSizeOuter(0)
      .tickPadding(11).tickFormat((d, i) => years[i]))
    .call(g => styleAxis(g, 2));
svg.append("g").attr("transform", `translate(0,${plot.top})`)
    .call(d3.axisTop(x).tickValues(monthTicks).tickSizeInner(-7).tickSizeOuter(0).tickFormat(""))
    .call(g => styleAxis(g, 1.6));

// left axis
svg.append("g").attr("transform", `translate(${plot.left},0)`)
    .call(d3.axisLeft(y).tickValues(leftTicks).tickSizeInner(-13).tickSizeOuter(0)
      .tickPadding(8).tickFormat(d => "\u2212" + Math.abs(d)))
    .call(g => styleAxis(g, 2));
svg.append("g").attr("transform", `translate(${plot.left},0)`)
    .call(d3.axisLeft(y).tickValues(minorY).tickSizeInner(-7).tickSizeOuter(0).tickFormat(""))
    .call(g => styleAxis(g, 1.6));

// right axis (ticks only)
svg.append("g").attr("transform", `translate(${plot.right},0)`)
    .call(d3.axisRight(y).tickValues(leftTicks).tickSizeInner(-13).tickSizeOuter(0).tickFormat(""))
    .call(g => styleAxis(g, 2));
svg.append("g").attr("transform", `translate(${plot.right},0)`)
    .call(d3.axisRight(y).tickValues(minorY).tickSizeInner(-7).tickSizeOuter(0).tickFormat(""))
    .call(g => styleAxis(g, 1.6));

// frame
svg.append("rect")
    .attr("x", plot.left).attr("y", plot.top)
    .attr("width", plot.right - plot.left).attr("height", plot.bottom - plot.top)
    .attr("fill", "none").attr("stroke", "#000").attr("stroke-width", 2.6);

// season index used to look up the default error
function season(mjd) {
  return Math.max(0, Math.min(8, Math.floor((mjd - 52900) / 365.25)));
}

const curves = [
  {pts: curveA, err: errA, color: "#ff0000"},
  {pts: curveB, err: errB, color: "#0000ff"},
  {pts: curveC, err: errC, color: "#008f00"},
  {pts: curveD, err: errD, color: "#800080"}
];

curves.forEach(c => {
  const rows = c.pts.map(p => ({t: p[0], m: p[1], e: p.length > 2 ? p[2] : c.err[season(p[0])]}));
  const g = svg.append("g");
  g.append("g")
      .attr("stroke", "#c0c0c0").attr("stroke-width", 1.8).attr("fill", "none")
    .selectAll("path").data(rows).join("path")
      .attr("d", d => {
        const cx = x(d.t), ya = y(d.m - d.e), yb = y(d.m + d.e);
        return `M${cx},${ya}V${yb}M${cx - 7},${ya}H${cx + 7}M${cx - 7},${yb}H${cx + 7}`;
      });
  g.append("g").selectAll("circle").data(rows).join("circle")
      .attr("cx", d => x(d.t)).attr("cy", d => y(d.m))
      .attr("r", 3.8).attr("fill", c.color);
});

// title
svg.append("text")
    .attr("x", 1228).attr("y", 142).attr("text-anchor", "middle")
    .attr("font-family", tickFont).attr("font-size", 92)
    .text("RXJ 1131\u22121231");

// curve labels
const labels = [
  {t: "A", x: 204, y: 516, c: "#ff0000"},
  {t: "B", x: 206, y: 576, c: "#0000ff"},
  {t: "C", x: 206, y: 781, c: "#008f00"},
  {t: "D", x: 206, y: 1198, c: "#800080"}
];
labels.forEach(l => svg.append("text").attr("x", l.x).attr("y", l.y)
    .attr("font-family", tickFont).attr("font-size", 64).attr("fill", l.c).text(l.t));
svg.append("text").attr("x", 218).attr("y", 606).attr("font-family", labelFont)
    .attr("font-size", 29).attr("fill", "#0000ff").text("+0.3");
svg.append("text").attr("x", 218).attr("y", 1229).attr("font-family", labelFont)
    .attr("font-size", 29).attr("fill", "#800080").text("+0.3");

// axis titles
svg.append("text")
    .attr("x", 1231).attr("y", 1547).attr("text-anchor", "middle")
    .attr("font-family", labelFont).attr("font-size", 38)
    .text("HJD - 2400000.5 [day]");
svg.append("text")
    .attr("transform", "translate(48,758) rotate(-90)").attr("text-anchor", "middle")
    .attr("font-family", labelFont).attr("font-size", 39)
    .text("Magnitude (relative)");

// EPFL logo and COSMOGRAIL.org credit
const logo = svg.append("g");
logo.append("rect").attr("x", 1602).attr("y", 1321).attr("width", 254).attr("height", 72).attr("fill", "#c40000");
logo.append("path").attr("d", "M1688,1321 Q1670,1357 1688,1393 L1773,1393 L1773,1321 Z").attr("fill", "#fff");
logo.append("text").attr("x", 1686).attr("y", 1386)
    .attr("font-family", "'DejaVu Sans', sans-serif").attr("font-weight", "bold")
    .attr("font-size", 62).attr("textLength", 86).attr("lengthAdjust", "spacingAndGlyphs")
    .attr("fill", "#111").text("EPFL");
logo.append("text").attr("x", 1602).attr("y", 1419)
    .attr("font-family", tickFont).attr("font-size", 19).attr("textLength", 254)
    .attr("lengthAdjust", "spacingAndGlyphs").attr("fill", "#808080").text("ÉCOLE POLYTECHNIQUE");
logo.append("text").attr("x", 1602).attr("y", 1443)
    .attr("font-family", tickFont).attr("font-size", 19).attr("textLength", 254)
    .attr("lengthAdjust", "spacingAndGlyphs").attr("fill", "#808080").text("FÉDÉRALE DE LAUSANNE");
svg.append("text").attr("x", 1858).attr("y", 1435)
    .attr("font-family", labelFont).attr("font-size", 44).attr("fill", "#808080")
    .attr("textLength", 428).attr("lengthAdjust", "spacingAndGlyphs")
    .text("COSMOGRAIL.org");
</script>
</body>
</html>
